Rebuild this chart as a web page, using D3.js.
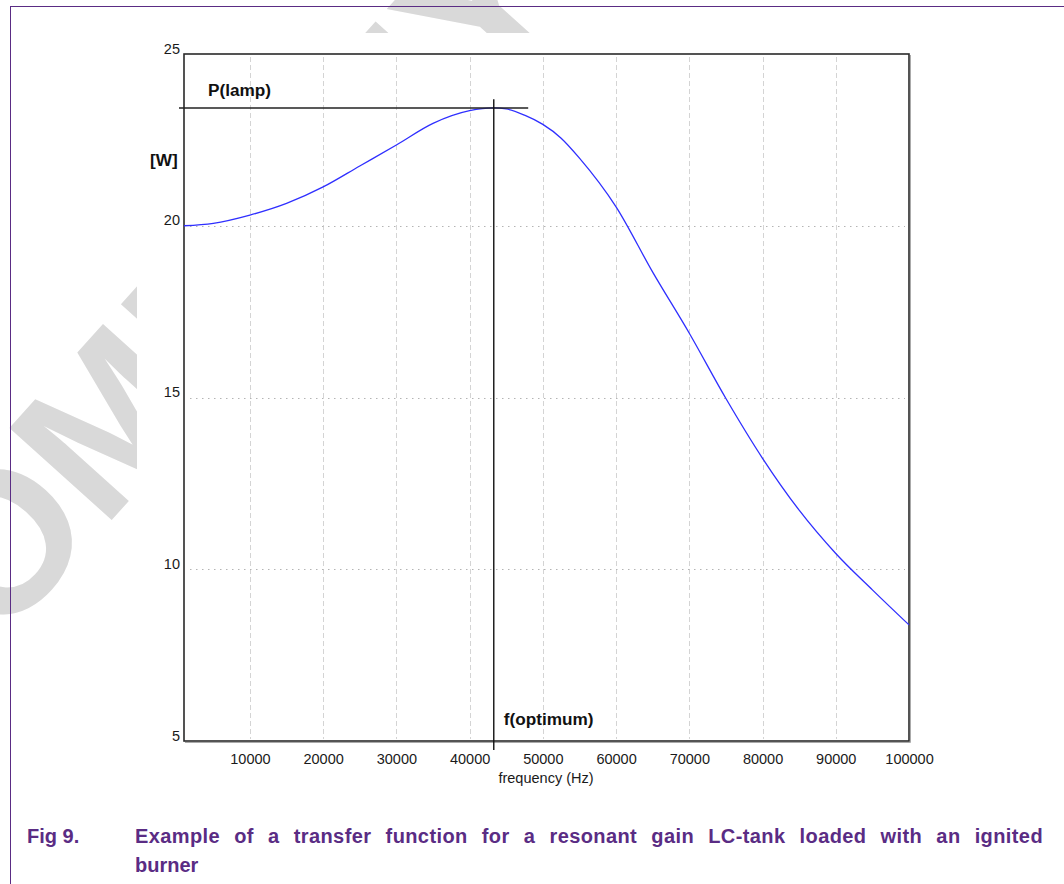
<!DOCTYPE html>
<html>
<head>
<meta charset="utf-8">
<script src="https://cdn.jsdelivr.net/npm/d3@7"></script>
<style>
  body { margin: 0; background: #fff; }
  svg { display: block; }
</style>
</head>
<body>
<div id="chart"></div>
<script>
// values
var freqHz = [1000, 5000, 10000, 15000, 20000, 25000, 30000, 35000, 40000, 43300, 45000, 47500,
              50000, 52500, 55000, 60000, 65000, 70000, 75000, 80000, 85000, 90000, 95000, 100000];
var powerW = [20.0, 20.07, 20.31, 20.65, 21.13, 21.74, 22.35, 22.98, 23.35, 23.43, 23.40, 23.22,
              22.95, 22.55, 21.97, 20.55, 18.65, 16.87, 14.97, 13.23, 11.72, 10.46, 9.40, 8.38];
var xTicks = [10000, 20000, 30000, 40000, 50000, 60000, 70000, 80000, 90000, 100000];
var yTicks = [5, 10, 15, 20, 25];
var yGrid = [10, 15, 20];
var fOptimum = 43300;
var pLamp = 23.43;

var width = 1064, height = 884;
var purple = "#5a2c84";
var font = "Liberation Sans, Arial, sans-serif";

var svg = d3.select("#chart").append("svg")
    .attr("width", width)
    .attr("height", height);

// watermark behind the chart picture
svg.append("text")
    .attr("transform", "translate(-98,753) rotate(-48)")
    .style("font-family", font)
    .style("font-weight", "bold")
    .style("font-size", "200px")
    .style("fill", "#d9d9d9")
    .text("COMPANY PUBLIC");

// chart picture is opaque
svg.append("rect")
    .attr("x", 137).attr("y", 33)
    .attr("width", width - 137).attr("height", 760)
    .style("fill", "#fff");

// page frame
svg.append("line").attr("x1", 10).attr("x2", width).attr("y1", 6.5).attr("y2", 6.5)
    .style("stroke", purple).style("stroke-width", 1);
svg.append("line").attr("x1", 10.5).attr("x2", 10.5).attr("y1", 6).attr("y2", height)
    .style("stroke", purple).style("stroke-width", 1);

var x = d3.scaleLinear().domain([1000, 100000]).range([184, 909]);
var y = d3.scaleLinear().domain([5, 25]).range([741, 54]);

var plot = svg.append("g").attr("class", "plot");

// vertical dashed grid
plot.selectAll(".vgrid")
    .data(xTicks.slice(0, -1))
  .enter().append("line")
    .attr("class", "vgrid")
    .attr("x1", function(d) { return Math.round(x(d)) + 0.5; })
    .attr("x2", function(d) { return Math.round(x(d)) + 0.5; })
    .attr("y1", y(25) + 3)
    .attr("y2", y(5) - 2)
    .style("stroke", "#d4d4d4")
    .style("stroke-dasharray", "5,3");

// horizontal dotted grid
plot.selectAll(".hgrid")
    .data(yGrid)
  .enter().append("line")
    .attr("class", "hgrid")
    .attr("x1", x(1000) + 6)
    .attr("x2", x(100000) - 4)
    .attr("y1", function(d) { return Math.round(y(d)) + 0.5; })
    .attr("y2", function(d) { return Math.round(y(d)) + 0.5; })
    .style("stroke", "#b4b4b4")
    .style("stroke-dasharray", "1.5,4.5");

// frame of the plot
plot.append("rect")
    .attr("x", x(1000)).attr("y", y(25))
    .attr("width", x(100000) - x(1000))
    .attr("height", y(5) - y(25))
    .style("fill", "none")
    .style("stroke", "#2a2a2a")
    .style("stroke-width", 1.6);
plot.append("path")
    .attr("d", "M" + (x(100000) + 1.5) + "," + (y(25) + 1) + "V" + (y(5) + 1.5) + "H" + (x(1000) + 1))
    .style("fill", "none")
    .style("stroke", "#aaa")
    .style("stroke-width", 1);

// axes (labels only, the frame is drawn above)
var xAxis = d3.axisBottom(x).tickValues(xTicks).tickSize(0).tickPadding(0).tickFormat(d3.format("d"));
var gx = plot.append("g")
    .attr("transform", "translate(0," + y(5) + ")")
    .call(xAxis);
gx.select(".domain").remove();
gx.selectAll("text")
    .attr("dy", null)
    .attr("y", 23)
    .style("font-family", font)
    .style("font-size", "14.5px")
    .style("fill", "#1a1a1a");

var yAxis = d3.axisLeft(y).tickValues(yTicks).tickSize(0).tickPadding(0);
var gy = plot.append("g")
    .attr("transform", "translate(" + (x(1000) - 4) + ",0)")
    .call(yAxis);
gy.select(".domain").remove();
gy.selectAll("text")
    .attr("dy", null)
    .attr("y", -1)
    .style("font-family", font)
    .style("font-size", "14.5px")
    .style("fill", "#1a1a1a");

// the curve
var line = d3.line()
    .x(function(d, i) { return x(freqHz[i]); })
    .y(function(d) { return y(d); })
    .curve(d3.curveMonotoneX);

plot.append("path")
    .datum(powerW)
    .attr("d", line)
    .style("fill", "none")
    .style("stroke", "#2f2fff")
    .style("stroke-width", 1.3);

// markers for the optimum
plot.append("line")
    .attr("x1", x(1000) - 5).attr("x2", x(48000))
    .attr("y1", y(pLamp)).attr("y2", y(pLamp))
    .style("stroke", "#222").style("stroke-width", 1.4);
plot.append("line")
    .attr("x1", x(fOptimum)).attr("x2", x(fOptimum))
    .attr("y1", y(23.68)).attr("y2", y(5) + 9)
    .style("stroke", "#111").style("stroke-width", 1.4);

function boldLabel(tx, ty, s) {
  plot.append("text")
      .attr("x", tx).attr("y", ty)
      .style("font-family", font).style("font-weight", "bold").style("font-size", "17.2px")
      .style("fill", "#111")
      .text(s);
}
boldLabel(208, 96, "P(lamp)");
boldLabel(150, 166, "[W]");
boldLabel(x(fOptimum) + 10, 725, "f(optimum)");

plot.append("text")
    .attr("x", 546).attr("y", 783)
    .attr("text-anchor", "middle")
    .style("font-family", font).style("font-size", "14.5px")
    .style("fill", "#1a1a1a")
    .text("frequency (Hz)");

// caption, first line justified like the source document
var caption = svg.append("g")
    .style("font-family", font)
    .style("font-weight", "bold")
    .style("font-size", "20px")
    .style("fill", purple);
caption.append("text").attr("x", 27).attr("y", 843).text("Fig 9.");
var line1 = caption.append("text").attr("x", 135).attr("y", 843)
    .style("letter-spacing", "0.4px")
    .text("Example of a transfer function for a resonant gain LC-tank loaded with an ignited");
var gaps = line1.text().split(" ").length - 1;
var extra = (1043 - 135 - line1.node().getComputedTextLength()) / gaps;
line1.style("word-spacing", Math.max(0, extra) + "px");
caption.append("text").attr("x", 135).attr("y", 872).text("burner");
</script>
</body>
</html>
